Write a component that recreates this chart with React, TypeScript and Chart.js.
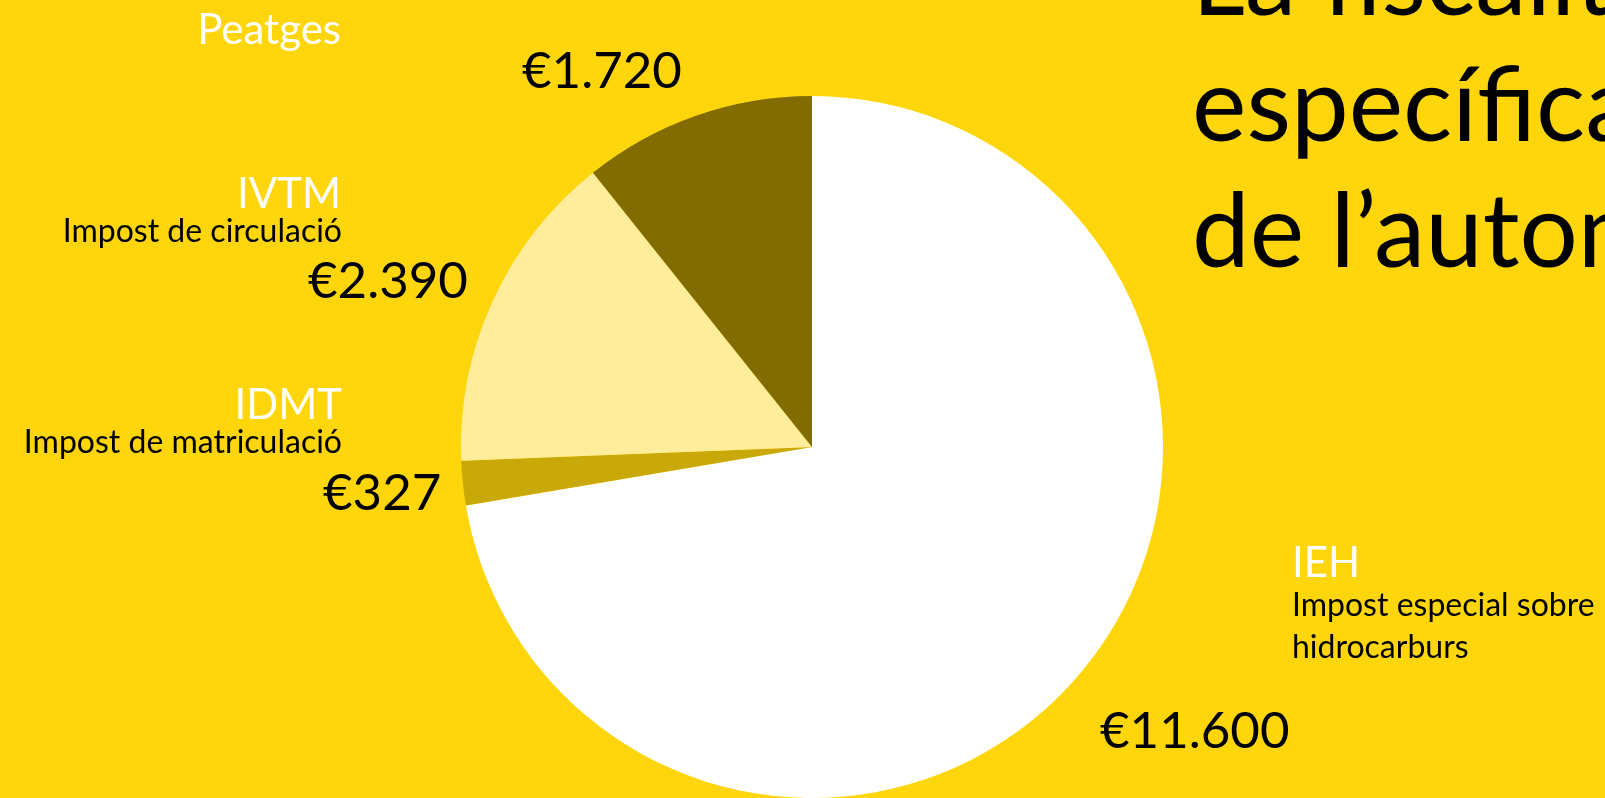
import React, { useEffect, useRef } from "react";
import { Chart, registerables } from "chart.js";

Chart.register(...registerables);

const categories = ["IEH", "IDMT", "IVTM", "Peatges"];
const subtitles = [["Impost especial sobre", "hidrocarburs"], ["Impost de matriculació"], ["Impost de circulació"], []];
const values = [11600, 327, 2390, 1720];
const sliceColors = ["#FFFFFF", "#C9A90A", "#FFED9B", "#826C02"];
const titleLines = ["La fiscalitat", "específica", "de l’automòbil"];

const BG = "#FFD60B";
const FONT = "Lato, 'Noto Sans', sans-serif";

// label layout (positions only)
const labelLayout = [
  { nameX: 1292, nameY: 577, align: "left", subX: 1292, subY: 616, subStep: 42, valX: 1100, valY: 748, valAlign: "left" },
  { nameX: 342, nameY: 419, align: "right", subX: 342, subY: 453, subStep: 0, valX: 323, valY: 510, valAlign: "left" },
  { nameX: 341, nameY: 208, align: "right", subX: 342, subY: 242, subStep: 0, valX: 308, valY: 298, valAlign: "left" },
  { nameX: 341, nameY: 44, align: "right", subX: 341, subY: 80, subStep: 0, valX: 522, valY: 88, valAlign: "left" },
];

function fmt(v: number) {
  const s = String(v);
  return "€" + s.replace(/\B(?=(\d{3})+(?!\d))/g, ".");
}

const labelsPlugin = {
  id: "customLabels",
  afterDraw(chart: any) {
    const ctx = chart.ctx;
    ctx.save();
    ctx.textBaseline = "alphabetic";
    categories.forEach((name, i) => {
      const L = labelLayout[i];
      ctx.fillStyle = "#FFFFFF";
      ctx.font = `42px ${FONT}`;
      ctx.textAlign = L.align;
      ctx.fillText(name, L.nameX, L.nameY);
      ctx.fillStyle = "#000000";
      ctx.font = `32px ${FONT}`;
      subtitles[i].forEach((s, j) => {
        ctx.fillText(s, L.subX, L.subY + j * L.subStep);
      });
      ctx.font = `51px ${FONT}`;
      ctx.textAlign = L.valAlign;
      ctx.fillText(fmt(values[i]), L.valX, L.valY);
    });
    ctx.font = `103px ${FONT}`;
    ctx.textAlign = "left";
    ctx.fillStyle = "#000000";
    titleLines.forEach((t, i) => {
      ctx.fillText(t, 1192, 15 + i * 126);
    });
    ctx.restore();
  },
};

export default function App() {
  const ref = useRef<HTMLCanvasElement>(null);
  useEffect(() => {
    document.body.style.margin = "0";
    const chart = new Chart(ref.current!, {
      type: "pie",
      data: {
        labels: categories,
        datasets: [
          {
            data: values,
            backgroundColor: sliceColors,
            borderWidth: 0,
          },
        ],
      },
      options: {
        animation: false,
        responsive: false,
        layout: { padding: { left: 461, right: 442, top: 96, bottom: 0 } },
        plugins: { legend: { display: false }, tooltip: { enabled: false } },
      },
      plugins: [labelsPlugin],
    });
    return () => chart.destroy();
  }, []);
  return (
    <div style={{ position: "fixed", left: 0, top: 0, width: 1605, height: 798, background: BG, overflow: "hidden" }}>
      <canvas ref={ref} width={1605} height={798} style={{ display: "block" }} />
    </div>
  );
}
